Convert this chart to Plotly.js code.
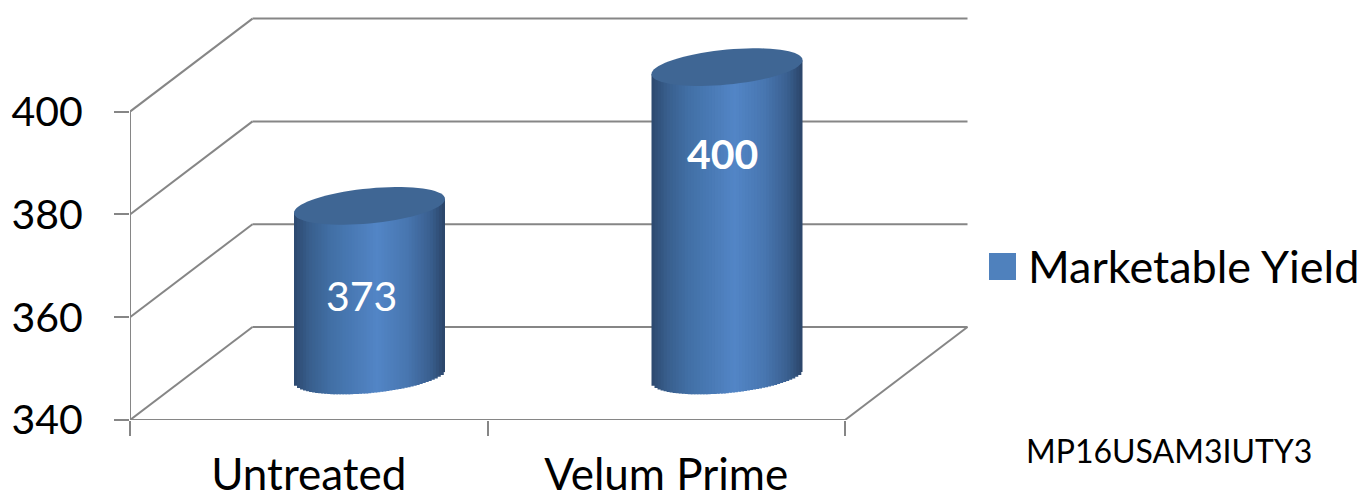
<!DOCTYPE html>
<html><head><meta charset="utf-8">
<script src="https://cdn.plot.ly/plotly-3.0.1.min.js"></script>
<style>html,body{margin:0;padding:0;background:#fff}</style></head>
<body><div id="chart" style="width:1361px;height:500px"></div>
<script>
const categories = ["Untreated", "Velum Prime"];
const yieldValues = [373, 400];
const valueLabels = ["373", "400"];
const axisTicks = [340, 360, 380, 400];
const seriesName = "Marketable Yield";
const noteText = "MP16USAM3IUTY3";

// page geometry
const W = 1361, H = 500;
const L = 130, R = 975, T = 10, B = 420;
const pxPerCat = 357.5, pxPerUnit = 5.14;
const xMin = -0.5, xMax = xMin + (R - L) / pxPerCat;
const yMin = 340, yMax = yMin + (B - T) / pxPerUnit;
// 3D depth: back wall offset, and the plane the cylinders stand on
const backX = 122.5 / pxPerCat, backY = 93 / pxPerUnit;
const midX = 60.75 / pxPerCat, midY = 44.5 / pxPerUnit;
const halfW = 75.5 / pxPerCat;           // cylinder half width, category units
const tilt = 7 / pxPerUnit, bulge = 17.5 / pxPerUnit; // ellipse shear and half height

const gray = "#868686";
const stops = [[0,[44,72,110]],[0.1,[56,94,140]],[0.25,[66,112,166]],[0.55,[82,133,198]],[0.75,[72,118,176]],[0.9,[58,96,144]],[1,[42,68,104]]];
function shade(f){
  for(let i=1;i<stops.length;i++){ if(f<=stops[i][0]){
    const a=stops[i-1],b=stops[i],t=(f-a[0])/(b[0]-a[0]);
    const c=a[1].map((v,k)=>Math.round(v+(b[1][k]-v)*t));
    return `rgb(${c[0]},${c[1]},${c[2]})`; } }
  return "rgb(42,68,104)";
}

const traces = [];
// anchors the visible category axis
traces.push({type:"scatter",mode:"markers",x:categories,y:yieldValues,marker:{opacity:0,size:1},
  showlegend:false,hoverinfo:"skip",xaxis:"x",yaxis:"y"});
// the series itself, on the plane inside the box
traces.push({type:"bar",name:seriesName,x:categories,y:yieldValues.map(v=>v-yMin),base:yMin,width:halfW*1.2,
  marker:{color:"#4F81BD",line:{width:0}},showlegend:false,xaxis:"x2",yaxis:"y2"});
// shaded side of each cylinder, as thin columns up to the same values
const nStrips = 50;
categories.forEach((c,i)=>{
  const xs=[],ys=[],bases=[],offs=[],wids=[],cols=[];
  const step=2*halfW/nStrips;
  for(let s=0;s<nStrips;s++){
    const f=(s+0.5)/nStrips,u=2*f-1;
    const lo=yMin+tilt*u-bulge*Math.sqrt(1-u*u);
    const hi=yieldValues[i]+tilt*u;
    xs.push(c);bases.push(lo);ys.push(hi-lo);
    offs.push(-halfW+step*s);wids.push(s<nStrips-1?step*1.6:step);cols.push(shade(f));
  }
  traces.push({type:"bar",x:xs,y:ys,base:bases,offset:offs,width:wids,showlegend:false,hoverinfo:"skip",
    marker:{color:cols,line:{width:0}},xaxis:"x2",yaxis:"y2"});
});

const shapes = [];
const ln = (x0,y0,x1,y1)=>({type:"line",xref:"x",yref:"y",x0,y0,x1,y1,layer:"below",line:{color:gray,width:2}});
axisTicks.forEach(t=>{
  shapes.push(ln(xMin,t,xMin+backX,t+backY));
  shapes.push(ln(xMin+backX,t+backY,xMin+2+backX,t+backY));
});
shapes.push(ln(xMin,yMin,xMin,axisTicks[axisTicks.length-1]));
shapes.push(ln(xMin,yMin,xMin+2,yMin));
shapes.push(ln(xMin+2,yMin,xMin+2+backX,yMin+backY));
// cylinder tops
yieldValues.forEach((v,i)=>{
  const pts=[];
  for(let k=0;k<72;k++){
    const a=k/72*2*Math.PI,u=Math.cos(a);
    pts.push((i+halfW*u).toFixed(4)+","+(v+tilt*u+bulge*Math.sin(a)).toFixed(3));
  }
  shapes.push({type:"path",xref:"x2",yref:"y2",layer:"above",path:"M"+pts.join("L")+"Z",
    fillcolor:"#3F6694",line:{width:0}});
});
// legend swatch
const px=v=>(v-L)/(R-L), py=v=>(B-v)/(B-T);
shapes.push({type:"rect",xref:"paper",yref:"paper",x0:px(989),x1:px(1016),y0:py(280),y1:py(253),
  fillcolor:"#4F81BD",line:{width:0},layer:"above"});

const annotations = [
  {xref:"x2",yref:"y2",x:categories[0],y:yieldValues[0],yshift:-90,xshift:-8,text:valueLabels[0],showarrow:false,
   font:{family:"Lato",size:41,color:"#fff"},yanchor:"middle",xanchor:"center"},
  {xref:"x2",yref:"y2",x:categories[1],y:yieldValues[1],yshift:-86,xshift:-5,text:"<b>"+valueLabels[1]+"</b>",showarrow:false,
   font:{family:"Lato",size:41,color:"#fff"},yanchor:"middle",xanchor:"center"},
  {xref:"paper",yref:"paper",x:px(1026),y:py(266),text:seriesName,showarrow:false,xanchor:"left",yanchor:"middle",
   font:{family:"Lato",size:45,color:"#000"}},
  {xref:"paper",yref:"paper",x:px(1024),y:py(450),text:noteText,showarrow:false,xanchor:"left",yanchor:"middle",
   font:{family:"Lato",size:32,color:"#000"}}
];

const layout = {
  width:W,height:H,paper_bgcolor:"#fff",plot_bgcolor:"#fff",showlegend:false,barmode:"overlay",
  margin:{l:L,r:W-R,t:T,b:H-B,pad:0},
  xaxis:{type:"category",categoryorder:"array",categoryarray:categories,range:[xMin,xMax],domain:[0,1],
    showgrid:false,zeroline:false,showline:false,tickson:"boundaries",ticks:"outside",ticklen:15,tickwidth:2,tickcolor:gray,
    tickfont:{family:"Lato",size:44,color:"#000"},ticklabelstandoff:25},
  yaxis:{range:[yMin,yMax],domain:[0,1],tickmode:"array",tickvals:axisTicks,ticktext:axisTicks.map(String),
    showgrid:false,zeroline:false,showline:false,ticks:"outside",ticklen:15,tickwidth:2,tickcolor:gray,
    tickfont:{family:"Lato",size:41,color:"#000"},ticklabelstandoff:23},
  xaxis2:{type:"category",categoryorder:"array",categoryarray:categories,overlaying:"x",anchor:"y2",
    range:[xMin-midX,xMax-midX],visible:false},
  yaxis2:{overlaying:"y",anchor:"x2",range:[yMin-midY,yMax-midY],visible:false},
  shapes,annotations
};
Plotly.newPlot("chart",traces,layout,{displayModeBar:false,staticPlot:true});
</script></body></html>
